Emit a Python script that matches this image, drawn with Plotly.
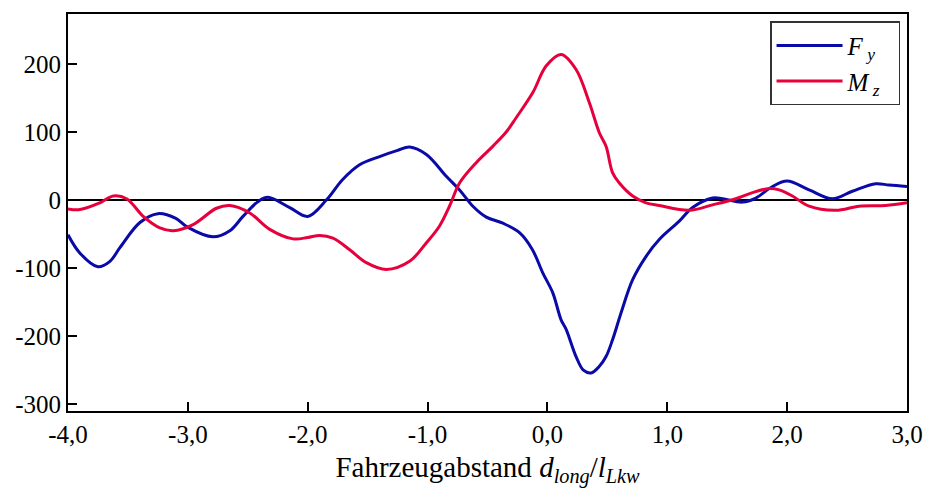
import plotly.graph_objects as go

# Normalised longitudinal distance d_long / l_Lkw
x_fy = [-4.0, -3.9, -3.75, -3.65, -3.567, -3.4, -3.25, -3.1, -3.01, -2.79, -2.65, -2.54,
        -2.42, -2.333, -2.15, -2.0, -1.845, -1.71, -1.567, -1.4, -1.25, -1.15, -1.01,
        -0.844, -0.733, -0.622, -0.51, -0.372, -0.233, -0.125, -0.039, 0.044, 0.114,
        0.156, 0.239, 0.3, 0.364, 0.43, 0.489, 0.544, 0.614, 0.711, 0.822, 0.933,
        1.1, 1.211, 1.378, 1.461, 1.628, 1.739, 1.878, 2.0, 2.183, 2.378, 2.544,
        2.739, 2.85, 3.0]
fy = [-51, -78, -98, -90, -70, -33, -20, -27, -39, -54, -45, -24,
      -3, 4, -11, -24, 0, 30, 52, 64, 73, 78, 67,
      35, 15, -9, -25, -34, -48, -73, -107, -136, -176,
      -190, -230, -250, -254, -245, -230, -205, -166, -117, -83, -58,
      -31, -11, 3, 2, -3, 3, 20, 28, 15, 2, 13,
      24, 22, 20]

x_mz = [-4.0, -3.9, -3.733, -3.622, -3.511, -3.372, -3.233, -3.122, -2.956, -2.761,
        -2.65, -2.483, -2.317, -2.122, -2.0, -1.9, -1.789, -1.65, -1.511, -1.344,
        -1.15, -1.011, -0.9, -0.817, -0.733, -0.594, -0.456, -0.344, -0.261, -0.122,
        -0.011, 0.114, 0.239, 0.35, 0.433, 0.489, 0.544, 0.6, 0.711, 0.822, 0.933,
        1.183, 1.378, 1.572, 1.711, 1.85, 1.933, 2.044, 2.183, 2.406, 2.6, 2.822, 3.0]
mz = [-13, -14, -4, 6, 2, -24, -41, -45, -36, -12,
      -8, -19, -43, -57, -55, -52, -56, -73, -92, -102,
      -90, -63, -38, -9, 25, 55, 79, 100, 121, 158,
      197, 214, 192, 143, 99, 79, 40, 25, 6, -4, -8,
      -15, -7, 2, 11, 17, 15, 6, -9, -15, -9, -8, -4]

x_tick_vals = [-4, -3, -2, -1, 0, 1, 2, 3]
x_tick_text = ["-4,0", "-3,0", "-2,0", "-1,0", "0,0", "1,0", "2,0", "3,0"]
y_tick_vals = [-300, -200, -100, 0, 100, 200]
y_tick_text = ["-300", "-200", "-100", "0", "100", "200"]

BLUE = "#0a0aa8"
RED = "#e6003c"
SERIF = "Liberation Serif"

fig = go.Figure()
fig.add_trace(go.Scatter(
    x=x_fy, y=fy, mode="lines", name="<i>F</i><sub><i> y</i></sub>&nbsp;&nbsp;",
    line=dict(color=BLUE, width=3, shape="spline", smoothing=1.0),
))
fig.add_trace(go.Scatter(
    x=x_mz, y=mz, mode="lines", name="<i>M</i><sub><i> z</i></sub>&nbsp;&nbsp;",
    line=dict(color=RED, width=3, shape="spline", smoothing=1.0),
))

axis_common = dict(
    showline=True, linecolor="black", linewidth=2, mirror=True,
    ticks="inside", ticklen=9, tickwidth=2, tickcolor="black",
    showgrid=False, automargin=False,
    tickfont=dict(family=SERIF, size=25, color="black"),
)

fig.update_xaxes(
    range=[-4, 3], tickmode="array", tickvals=x_tick_vals, ticktext=x_tick_text,
    zeroline=False,
    title=dict(
        text="Fahrzeugabstand <i>d</i><sub><i>long</i></sub>/<i>l</i><sub><i>Lkw</i></sub>",
        font=dict(family=SERIF, size=29, color="black"), standoff=10,
    ),
    **axis_common,
)
fig.update_yaxes(
    range=[-310, 273.5], tickmode="array", tickvals=y_tick_vals, ticktext=y_tick_text,
    zeroline=True, zerolinecolor="black", zerolinewidth=1.5,
    **axis_common,
)

fig.update_layout(
    width=925, height=500,
    margin=dict(l=68, r=18, t=14, b=89),
    paper_bgcolor="white", plot_bgcolor="white",
    showlegend=True,
    legend=dict(
        x=0.9917, y=0.982, xanchor="right", yanchor="top",
        bgcolor="white", bordercolor="#333333", borderwidth=1.5,
        font=dict(family=SERIF, size=25, color="black"),
        itemwidth=66, tracegroupgap=0,
    ),
)

fig.write_html("out.html")
